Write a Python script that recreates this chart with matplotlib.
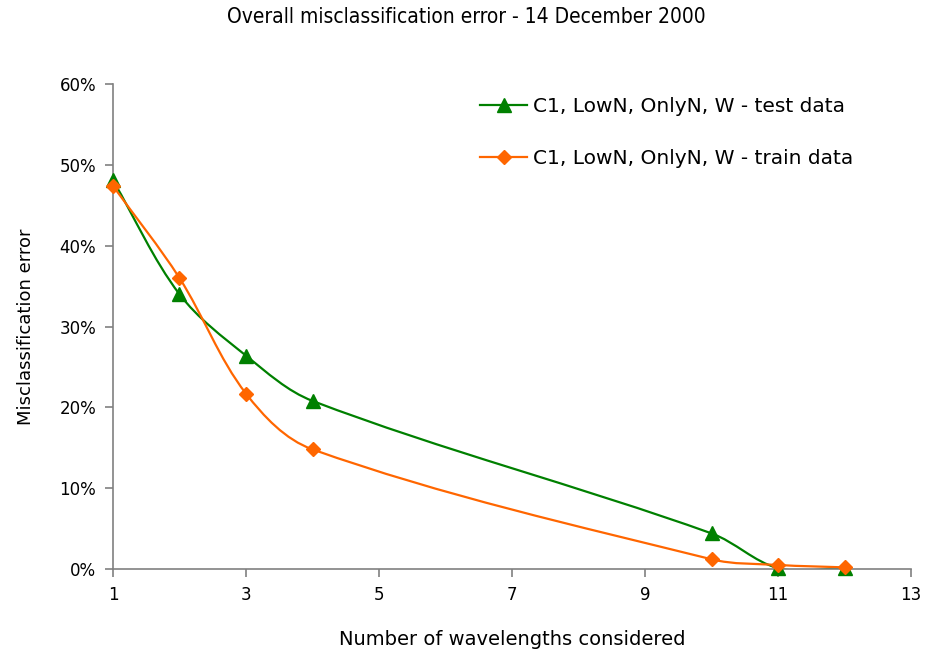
import numpy as np
import matplotlib.pyplot as plt
from matplotlib.path import Path
from matplotlib.patches import PathPatch
from matplotlib.lines import Line2D
from matplotlib.ticker import FuncFormatter

# wavelengths considered and overall misclassification error (%)
n_wavelengths = [1, 2, 3, 4, 10, 11, 12]
test_error = [48.1, 34.0, 26.4, 20.8, 4.4, 0.1, 0.1]
train_error = [47.4, 36.0, 21.7, 14.8, 1.2, 0.5, 0.2]

green = '#008000'
orange = '#FF6600'
axis_grey = '#808080'

# rough pixel size of one data unit, so the smoothing works in screen space
XSCALE = 798 / 12
YSCALE = 485 / 60


def smooth_path(x, y):
    # cubic bezier through the points; tangents from neighbours,
    # control arms scaled by the length of each segment
    p = np.column_stack([np.asarray(x) * XSCALE, np.asarray(y) * YSCALE])
    n = len(p)
    tang = np.zeros_like(p)
    for i in range(n):
        a = p[max(i - 1, 0)]
        b = p[min(i + 1, n - 1)]
        d = b - a
        tang[i] = d / np.hypot(*d)
    verts = [p[0]]
    codes = [Path.MOVETO]
    for i in range(n - 1):
        L = np.hypot(*(p[i + 1] - p[i]))
        c1 = p[i] + tang[i] * L / 3
        c2 = p[i + 1] - tang[i + 1] * L / 3
        verts += [c1, c2, p[i + 1]]
        codes += [Path.CURVE4] * 3
    verts = np.array(verts) / [XSCALE, YSCALE]
    return Path(verts, codes)


fig = plt.figure(figsize=(9.26, 6.52), dpi=100)
ax = fig.add_axes([0.122, 0.1273, 0.862, 0.7437])

series = [
    (test_error, green, '^', 10, 'C1, LowN, OnlyN, W - test data'),
    (train_error, orange, 'D', 7.5, 'C1, LowN, OnlyN, W - train data'),
]
handles = []
for values, color, marker, ms, label in series:
    ax.add_patch(PathPatch(smooth_path(n_wavelengths, values), facecolor='none',
                           edgecolor=color, lw=1.6, zorder=2))
    ax.plot(n_wavelengths, values, ls='none', marker=marker, ms=ms,
            color=color, zorder=3, clip_on=False)
    handles.append(Line2D([], [], color=color, lw=1.6, marker=marker,
                          ms=ms, label=label))

ax.set_xlim(1, 13)
ax.set_ylim(0, 60)
ax.set_xticks(np.arange(1, 14, 2))
ax.set_yticks(np.arange(0, 61, 10))
ax.yaxis.set_major_formatter(FuncFormatter(lambda v, _: f'{v:.0f}%'))

for side in ['top', 'right']:
    ax.spines[side].set_visible(False)
for side in ['left', 'bottom']:
    ax.spines[side].set_color(axis_grey)
    ax.spines[side].set_linewidth(1.2)
ax.tick_params(direction='out', length=6, width=1.2, color=axis_grey,
               labelsize=12, labelcolor='black', pad=6)

ax.set_xlabel('Number of wavelengths considered', fontsize=14, labelpad=19)
ax.set_ylabel('Misclassification error', fontsize=13, labelpad=18)
fig.text(0.504, 0.99, 'Overall misclassification error - 14 December 2000',
         ha='center', va='top', fontsize=15, fontstretch='condensed')

ax.legend(handles=handles, loc='upper left', bbox_to_anchor=(0.508, 0.866),
          bbox_transform=fig.transFigure, frameon=False, fontsize=14.5,
          handlelength=2.3, handletextpad=0.3, labelspacing=1.6,
          borderpad=0)

fig.savefig('out.png', dpi=100)
